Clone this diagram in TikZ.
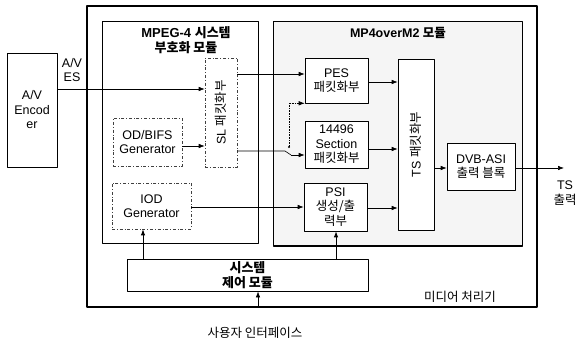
\documentclass[tikz,border=0pt]{standalone}
\usepackage{fontspec}
\setmainfont{Liberation Sans}
\newfontfamily\kr{Noto Sans CJK KR}
\usepackage{tikz}
\usetikzlibrary{arrows.meta,positioning,calc}

\begin{document}
\begin{tikzpicture}[
    x=1pt, y=-1pt,
    line join=round,
    font=\fontsize{12.5}{14.5}\selectfont,
    frame/.style={draw, line width=1.1pt},
    modbox/.style={draw, line width=1pt},
    blk/.style={draw, line width=0.6pt, fill=white, align=center, inner sep=1pt},
    genblk/.style={blk, dash dot, draw=black!75},
    lbl/.style={align=center, inner sep=0pt},
    arr/.style={-{Latex[length=6pt,width=4.5pt]}, line width=0.6pt},
  ]
  \useasboundingbox (0,0) rectangle (577,344);

  % ---------- outer frame and the two modules ----------
  \node[frame, minimum width=450pt, minimum height=301pt] (proc) at (312,156.5) {};
  \node[modbox, minimum width=156pt, minimum height=222pt] (mpeg) at (180,133) {};
  \node[modbox, fill=gray!8, minimum width=249pt, minimum height=224pt] (mtwo) at (397.5,134) {};
  \node[lbl, font=\fontsize{13}{14.5}\selectfont\bfseries] (mpegT) at (186,40)
    {MPEG-4 {\kr 시스템}\\{\kr 부호화 모듈}};
  \node[lbl, font=\fontsize{12.5}{14.5}\selectfont\bfseries] (mtwoT) at (398,33)
    {MP4overM2 {\kr 모듈}};
  \node[lbl] (procT) at (460,297) {\kr 미디어 처리기};

  % ---------- encoder ----------
  \node[blk, minimum width=50pt, minimum height=114pt] (enc) at (32,110) {A/V\\Encod\\er};
  \node[lbl] (esT) at (72,70) {A/V\\ES};

  % ---------- MPEG-4 system encoding blocks ----------
  \node[genblk, minimum width=32pt, minimum height=109pt] (sl) at (221,112.5) {};
  \node[rotate=90, inner sep=0pt] (slT) at (sl.center) {SL {\kr 패킷화부}};
  \node[genblk, minimum width=69pt, minimum height=48pt] (odb) at (147.5,142) {OD/BIFS\\Generator};
  \node[genblk, minimum width=79pt, minimum height=46pt] (iod) at (151.5,206) {IOD\\Generator};

  % ---------- MP4overM2 blocks ----------
  \node[blk, minimum width=63pt, minimum height=45pt] (pes) at (336.5,80.5) {PES\\{\kr 패킷화부}};
  \node[blk, minimum width=63pt, minimum height=47pt] (sec) at (336.5,144.5) {14496\\Section\\{\kr 패킷화부}};
  \node[blk, minimum width=63pt, minimum height=48pt] (psi) at (335.5,207) {PSI\\{\kr 생성/출}\\{\kr 력부}};
  \node[blk, minimum width=36pt, minimum height=171pt] (ts) at (416,144.5) {};
  \node[rotate=90, inner sep=0pt] (tsT) at (ts.center) {TS {\kr 패킷화부}};
  \node[blk, minimum width=68pt, minimum height=47pt] (dvb) at (481,166.5) {DVB-ASI\\{\kr 출력 블록}};
  \node[lbl] (outT) at (565,193) {TS\\{\kr 출력}};

  % ---------- system control ----------
  \node[blk, line width=0.9pt, minimum width=241pt, minimum height=32pt,
        font=\fontsize{13}{14.5}\selectfont\bfseries] (ctl) at (247.5,275) {\kr 시스템\\\kr 제어 모듈};
  \node[lbl] (userT) at (255,333) {\kr 사용자 인터페이스};

  % ---------- switch between SL and the section packetizer ----------
  \coordinate (swa) at (285,151);
  \coordinate (swb) at (291,155);
  \coordinate (swc) at (289,147);
  \coordinate (out) at (564,168);

  % ---------- connectors ----------
  \draw[arr] (enc.east |- 0,89) -- (sl.west |- 0,89);
  \draw[arr] (odb.east |- 0,146) -- (sl.west |- 0,146);
  \draw[arr] (sl.east |- 0,74) -- (pes.west |- 0,74);
  \draw[line width=0.6pt] (sl.east |- swa) -- (swa) -- (swb);
  \draw[arr] (swb) -- (sec.west |- swb);
  \fill (swc) circle[radius=1.1pt];
  \draw[arr, densely dotted] (swc) |- (pes.south west);
  \draw[arr] (pes.east |- 0,82) -- (ts.west |- 0,82);
  \draw[arr] (sec.east |- 0,149) -- (ts.west |- 0,149);
  \draw[arr] (psi.east |- 0,208) -- (ts.west |- 0,208);
  \draw[arr] (iod.east |- 0,207) -- (psi.west |- 0,207);
  \draw[arr] (ts.east |- 0,168) -- (dvb.west |- 0,168);
  \draw[arr] (dvb.east |- out) -- (out);
  \draw[arr, line width=0.9pt] (ctl.north -| 143,0) -- (iod.south -| 143,0);
  \draw[arr, line width=0.9pt] (ctl.north -| 336,0) -- (psi.south -| 336,0);
  \draw[arr] (proc.south -| 258,0) -- (ctl.south -| 258,0);

\end{tikzpicture}
\end{document}
